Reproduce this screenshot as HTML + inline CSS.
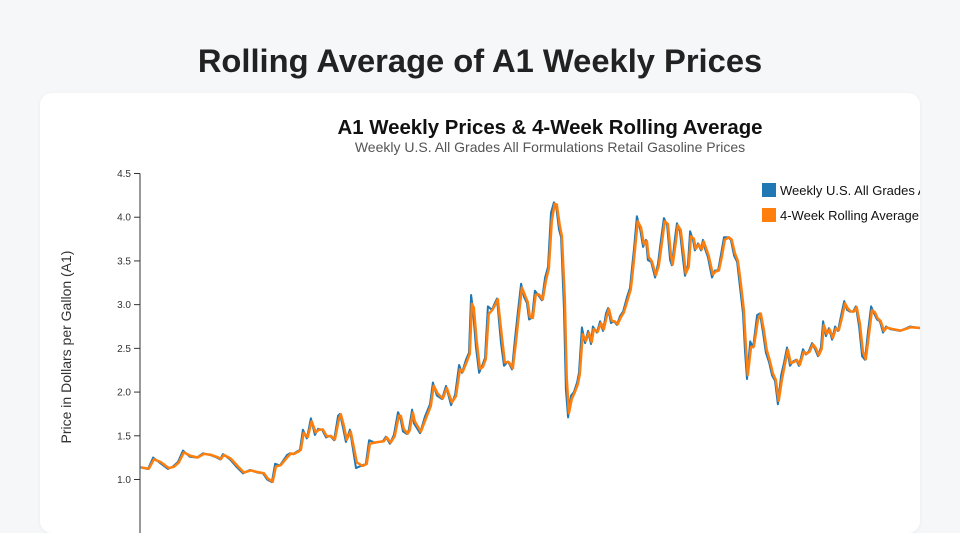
<!DOCTYPE html>
<html><head><meta charset="utf-8"><style>
html,body{margin:0;padding:0;width:960px;height:500px;overflow:hidden;background:#f6f7f9;font-family:"Liberation Sans","DejaVu Sans",sans-serif;}
h1{position:absolute;left:0;width:960px;top:41px;margin:0;text-align:center;font-size:32.7px;font-weight:bold;color:#222;line-height:40px;}
#card{position:absolute;left:40px;top:93px;width:880px;height:440px;background:#fff;border-radius:12px;box-shadow:0 1px 4px rgba(0,0,0,0.06);overflow:hidden;}
svg{position:absolute;left:0;top:0;}
</style></head><body>
<h1>Rolling Average of A1 Weekly Prices</h1>
<div id="card">
<svg id="chart" width="880" height="440">
<text x="510" y="41" text-anchor="middle" font-size="20.4" font-weight="bold" fill="#111">A1 Weekly Prices &amp; 4-Week Rolling Average</text>
<text x="510" y="59" text-anchor="middle" font-size="14" fill="#555">Weekly U.S. All Grades All Formulations Retail Gasoline Prices</text>
<text transform="translate(31,254) rotate(-90)" text-anchor="middle" font-size="14" fill="#333">Price in Dollars per Gallon (A1)</text>
<g id="yaxis"></g>
<g id="lines"></g>
<g>
<rect x="722" y="90" width="14" height="14" fill="#1f77b4"/>
<text x="740" y="102" font-size="13" fill="#111">Weekly U.S. All Grades All Formulations</text>
<rect x="722" y="115" width="14" height="14" fill="#ff7f0e"/>
<text x="740" y="127" font-size="13" fill="#111">4-Week Rolling Average</text>
</g>
</svg>
</div>
<script>
const yearsSince1993=[0,.30,.49,.75,1.05,1.24,1.42,1.61,1.87,2.13,2.36,2.62,2.88,3.00,3.11,3.37,3.63,3.86,4.12,4.38,4.61,4.76,4.94,5.06,5.24,5.51,5.62,5.73,5.88,5.99,6.10,6.25,6.40,6.55,6.67,6.82,6.97,7.12,7.27,7.42,7.49,7.60,7.71,7.86,8.09,8.31,8.46,8.58,8.80,9.10,9.21,9.36,9.51,9.66,9.74,9.85,10.00,10.07,10.19,10.26,10.49,10.67,10.86,10.97,11.12,11.31,11.46,11.65,11.80,11.95,12.06,12.21,12.32,12.40,12.47,12.58,12.70,12.81,12.92,13.03,13.18,13.29,13.37,13.52,13.63,13.78,13.93,14.04,14.16,14.27,14.38,14.49,14.57,14.68,14.79,14.91,15.05,15.17,15.28,15.39,15.50,15.58,15.69,15.77,15.88,15.95,16.03,16.14,16.25,16.37,16.44,16.55,16.67,16.78,16.89,16.96,17.11,17.23,17.34,17.45,17.53,17.64,17.75,17.86,17.98,18.09,18.24,18.35,18.43,18.50,18.61,18.73,18.84,18.95,19.02,19.14,19.29,19.40,19.51,19.62,19.74,19.85,19.92,20.04,20.11,20.22,20.34,20.41,20.52,20.60,20.71,20.78,20.90,21.01,21.08,21.16,21.27,21.42,21.53,21.65,21.76,21.87,22.02,22.13,22.25,22.36,22.47,22.58,22.66,22.73,22.85,22.96,23.11,23.22,23.33,23.44,23.56,23.67,23.78,23.89,24.01,24.12,24.23,24.34,24.45,24.57,24.68,24.83,24.94,25.05,25.17,25.28,25.39,25.50,25.58,25.69,25.80,25.92,26.03,26.14,26.25,26.37,26.48,26.59,26.70,26.81,26.93,27.04,27.15,27.26,27.38,27.49,27.60,27.71,27.83,27.94,28.09,28.46,28.84,29.21];
const weeklyPrices=[1.14,1.12,1.25,1.19,1.12,1.15,1.20,1.33,1.26,1.25,1.30,1.28,1.25,1.23,1.29,1.23,1.14,1.07,1.11,1.08,1.07,1.00,0.97,1.18,1.16,1.28,1.30,1.29,1.32,1.34,1.57,1.47,1.70,1.51,1.58,1.57,1.48,1.50,1.45,1.73,1.75,1.60,1.43,1.57,1.13,1.16,1.18,1.45,1.42,1.44,1.49,1.41,1.51,1.77,1.72,1.55,1.52,1.57,1.80,1.64,1.53,1.72,1.86,2.11,1.96,1.92,2.07,1.85,1.97,2.31,2.22,2.37,2.45,3.11,2.94,2.52,2.22,2.30,2.39,2.98,2.94,3.02,3.07,2.56,2.30,2.35,2.26,2.60,2.94,3.24,3.09,3.02,2.83,2.85,3.16,3.11,3.05,3.31,3.43,4.05,4.17,4.14,3.86,3.77,2.94,2.03,1.71,1.96,2.00,2.11,2.22,2.74,2.56,2.70,2.55,2.75,2.68,2.81,2.70,2.90,2.96,2.79,2.81,2.77,2.87,2.92,3.09,3.19,3.43,3.64,4.01,3.86,3.66,3.74,3.51,3.49,3.31,3.47,3.74,3.99,3.91,3.51,3.45,3.77,3.93,3.84,3.51,3.33,3.45,3.84,3.74,3.62,3.70,3.62,3.74,3.64,3.54,3.31,3.39,3.39,3.58,3.77,3.77,3.74,3.56,3.49,3.20,2.90,2.45,2.15,2.58,2.51,2.88,2.90,2.68,2.45,2.34,2.19,2.13,1.86,2.19,2.34,2.51,2.30,2.35,2.37,2.30,2.49,2.43,2.47,2.56,2.49,2.41,2.51,2.81,2.64,2.73,2.60,2.75,2.70,2.87,3.04,2.94,2.92,2.92,2.98,2.75,2.41,2.37,2.68,2.98,2.90,2.83,2.81,2.68,2.75,2.72,2.70,2.75,2.73];
const yTicks=[1.0,1.5,2.0,2.5,3.0,3.5,4.0,4.5];
const yTickLabels=["1.0","1.5","2.0","2.5","3.0","3.5","4.0","4.5"];

const NS="http://www.w3.org/2000/svg";
const X0=100,X1=880,Y0=80.5,Y1=386.5;
const xMin=0,xMax=29.21,yMin=1.0,yMax=4.5;
function xs(v){return X0+(v-xMin)/(xMax-xMin)*(X1-X0);}
function ys(v){return Y1-(v-yMin)/(yMax-yMin)*(Y1-Y0);}
// samples are ~6 weeks apart; a 4-week window only lightly blends with the previous sample
const rolling=weeklyPrices.map((v,i)=>i?0.85*v+0.15*weeklyPrices[i-1]:v);

const ya=document.getElementById('yaxis');
const ax=document.createElementNS(NS,'line');


ax.setAttribute('x1',X0);ax.setAttribute('x2',X0);ax.setAttribute('y1',Y0);ax.setAttribute('y2',440);
ax.setAttribute('stroke','#333');ax.setAttribute('stroke-width','1');
ya.appendChild(ax);
yTicks.forEach((t,i)=>{
  const y=ys(t);
  const l=document.createElementNS(NS,'line');
  
  
  l.setAttribute('x1',X0-6);l.setAttribute('x2',X0);l.setAttribute('y1',y);l.setAttribute('y2',y);
  l.setAttribute('stroke','#333');
  ya.appendChild(l);
  const tx=document.createElementNS(NS,'text');
  
  
  tx.setAttribute('x',X0-9);tx.setAttribute('y',y+3.5);tx.setAttribute('text-anchor','end');
  tx.setAttribute('font-size','10');tx.setAttribute('fill','#333');
  tx.textContent=yTickLabels[i];
  ya.appendChild(tx);
});
function path(vals,color,w,name,dx){
  const p=document.createElementNS(NS,'path');
  
  
  p.setAttribute('d',vals.map((v,i)=>(i?'L':'M')+(xs(yearsSince1993[i])+dx).toFixed(1)+','+ys(v).toFixed(1)).join(''));
  p.setAttribute('fill','none');p.setAttribute('stroke',color);p.setAttribute('stroke-width',w);
  p.setAttribute('stroke-linejoin','round');
  document.getElementById('lines').appendChild(p);
}
path(weeklyPrices,'#1f77b4',2,'weekly-price-line',0);
path(rolling,'#ff7f0e',2.5,'rolling-average-line',0.8);
</script>
</body></html>
